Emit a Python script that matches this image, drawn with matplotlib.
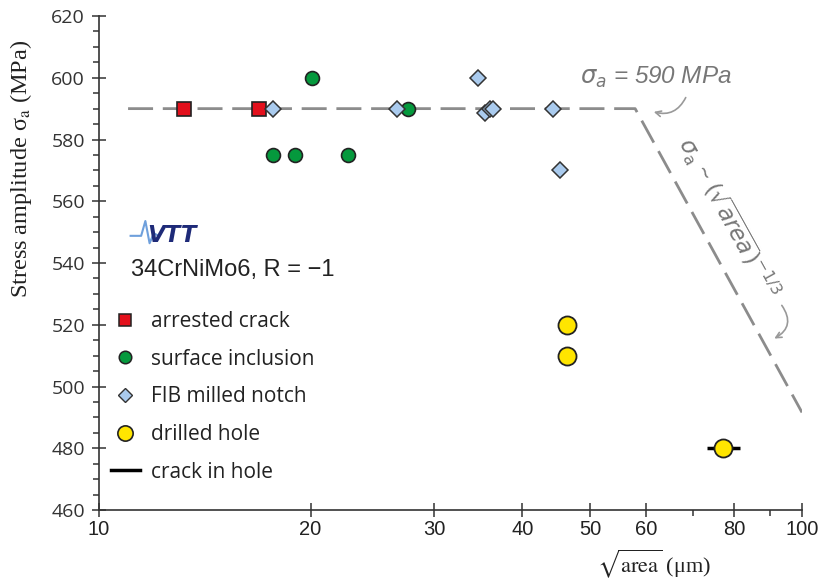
import matplotlib
matplotlib.use("Agg")
import matplotlib.pyplot as plt
from matplotlib.lines import Line2D
from matplotlib.ticker import FixedLocator, NullFormatter

# data
arrested_x = [13.2, 16.9]
arrested_y = [590, 590]
inclusion_x = [17.7, 19.0, 20.1, 22.6, 27.5]
inclusion_y = [575, 575, 600, 575, 590]
fib_x = [17.7, 26.5, 34.6, 35.4, 36.0, 36.3, 44.2, 45.3]
fib_y = [590, 590, 600, 588.5, 590, 590, 590, 570]
hole_x = [46.3, 46.3, 77.3]
hole_y = [520, 510, 480]
crack_lo = [73.3]
crack_hi = [81.6]
crack_y = [480]
# fatigue limit line: plateau then sqrt(area)^-1/3 branch
limit_x = [11.0, 57.9, 100]
limit_y = [590, 590, 491.6]

major_x = [10, 20, 30, 40, 50, 60, 80, 100]
minor_x = [70, 90]

fig = plt.figure(figsize=(8.24, 5.84), dpi=100)
ax = fig.add_axes([0.1201, 0.1267, 0.8532, 0.8459])

ax.plot(limit_x, limit_y, color="#8c8c8c", lw=2, dashes=(9, 3.5), zorder=1)

ax.hlines(crack_y, crack_lo, crack_hi, color="black", lw=2.5, zorder=2)
ax.plot(arrested_x, arrested_y, "s", ms=10, mfc="#e3101c", mec="#222222", mew=1.2, zorder=3)
ax.plot(inclusion_x, inclusion_y, "o", ms=10, mfc="#05993d", mec="#222222", mew=1.2, zorder=3)
ax.plot(fib_x, fib_y, "D", ms=8.5, mfc="#aacbee", mec="#333333", mew=1.1, zorder=3)
ax.plot(hole_x, hole_y, "o", ms=13, mfc="#ffe500", mec="#222222", mew=1.3, zorder=4)

ax.set_xscale("log")
ax.set_xlim(10, 100)
ax.set_ylim(460, 620)
ax.xaxis.set_major_locator(FixedLocator(major_x))
ax.xaxis.set_minor_locator(FixedLocator(minor_x))
ax.xaxis.set_minor_formatter(NullFormatter())
ax.set_xticklabels([str(v) for v in major_x], fontfamily="Liberation Sans", fontsize=14.5, color="#222222")
ax.set_yticks(range(460, 621, 20))
ax.set_yticks(range(460, 621, 5), minor=True)
for lab in ax.get_yticklabels():
    lab.set_fontfamily("Open Sans")
    lab.set_fontsize(14)
    lab.set_color("#333333")

ax.tick_params(which="major", direction="inout", length=10, width=1.1, color="#333333")
ax.tick_params(which="minor", direction="out", length=4, width=1.1, color="#333333")
ax.tick_params(axis="x", pad=2)
ax.tick_params(axis="y", pad=5)
ax.spines["top"].set_visible(False)
ax.spines["right"].set_visible(False)
for s in ("left", "bottom"):
    ax.spines[s].set_linewidth(1.2)
    ax.spines[s].set_color("#333333")

ax.set_ylabel("Stress amplitude \u03c3$_\\mathrm{a}$ (MPa)", fontfamily="Liberation Serif",
              fontsize=17.5, color="#222222", math_fontfamily="stix")
ax.yaxis.set_label_coords(-0.093, 0.69)
ax.set_xlabel(r"$\sqrt{\mathrm{area}}$ (μm)", fontfamily="Liberation Serif", fontsize=16,
              color="#222222", math_fontfamily="stix")
ax.xaxis.set_label_coords(0.79, -0.075)

# annotations
gray = "#777777"
ax.text(48.3, 600, r"$\sigma_a$ = 590 MPa", fontfamily="Liberation Sans", style="italic",
        fontsize=17.5, color=gray, ha="left", va="center", math_fontfamily="dejavusans")
ax.annotate("", xy=(61, 589.2), xytext=(68.6, 594.4),
            arrowprops=dict(arrowstyle="->", color="#999999", lw=1.2,
                            connectionstyle="arc3,rad=-0.45"))
ax.text(78.5, 554.6, r"$\sigma_\mathrm{a}$ ~ $(\sqrt{\mathit{area}})^{\mathrm{-1/3}}$",
        fontfamily="Liberation Sans", fontsize=16.5, color=gray, rotation=-61,
        rotation_mode="anchor", ha="center", va="center", math_fontfamily="dejavusans")
ax.annotate("", xy=(90.6, 515.1), xytext=(93.1, 527.0),
            arrowprops=dict(arrowstyle="->", color="#999999", lw=1.2,
                            connectionstyle="arc3,rad=-0.6"))

# VTT logo and material text
ax.plot([0.045, 0.06, 0.066, 0.072, 0.078, 0.085], [0.555, 0.555, 0.585, 0.54, 0.56, 0.555],
        transform=ax.transAxes, color="#6fa0dc", lw=1.5)
ax.text(0.068, 0.556, "VTT", transform=ax.transAxes, fontfamily="DejaVu Sans", fontweight="bold",
        style="italic", fontsize=16.5, color="#1e2a78", va="center")
ax.text(0.045, 0.485, "34CrNiMo6, R = \u22121", transform=ax.transAxes,
        fontfamily="Liberation Sans", fontsize=17, color="#222222", va="center")

handles = [
    Line2D([], [], ls="none", marker="s", ms=8, mfc="#e3101c", mec="#222222", mew=1.1),
    Line2D([], [], ls="none", marker="o", ms=9, mfc="#05993d", mec="#222222", mew=1.1),
    Line2D([], [], ls="none", marker="D", ms=7, mfc="#aacbee", mec="#333333", mew=1.0),
    Line2D([], [], ls="none", marker="o", ms=11, mfc="#ffe500", mec="#222222", mew=1.2),
    Line2D([], [], color="black", lw=2.5),
]
labels = ["arrested crack", "surface inclusion", "FIB milled notch", "drilled hole", "crack in hole"]
leg = ax.legend(handles, labels, loc="upper left", bbox_to_anchor=(0.005, 0.42), frameon=False,
                prop={"family": "Open Sans", "size": 15}, labelspacing=0.8, handlelength=1.4,
                handletextpad=0.55, borderaxespad=0)
for t in leg.get_texts():
    t.set_color("#222222")

fig.savefig("out.png", dpi=100)
